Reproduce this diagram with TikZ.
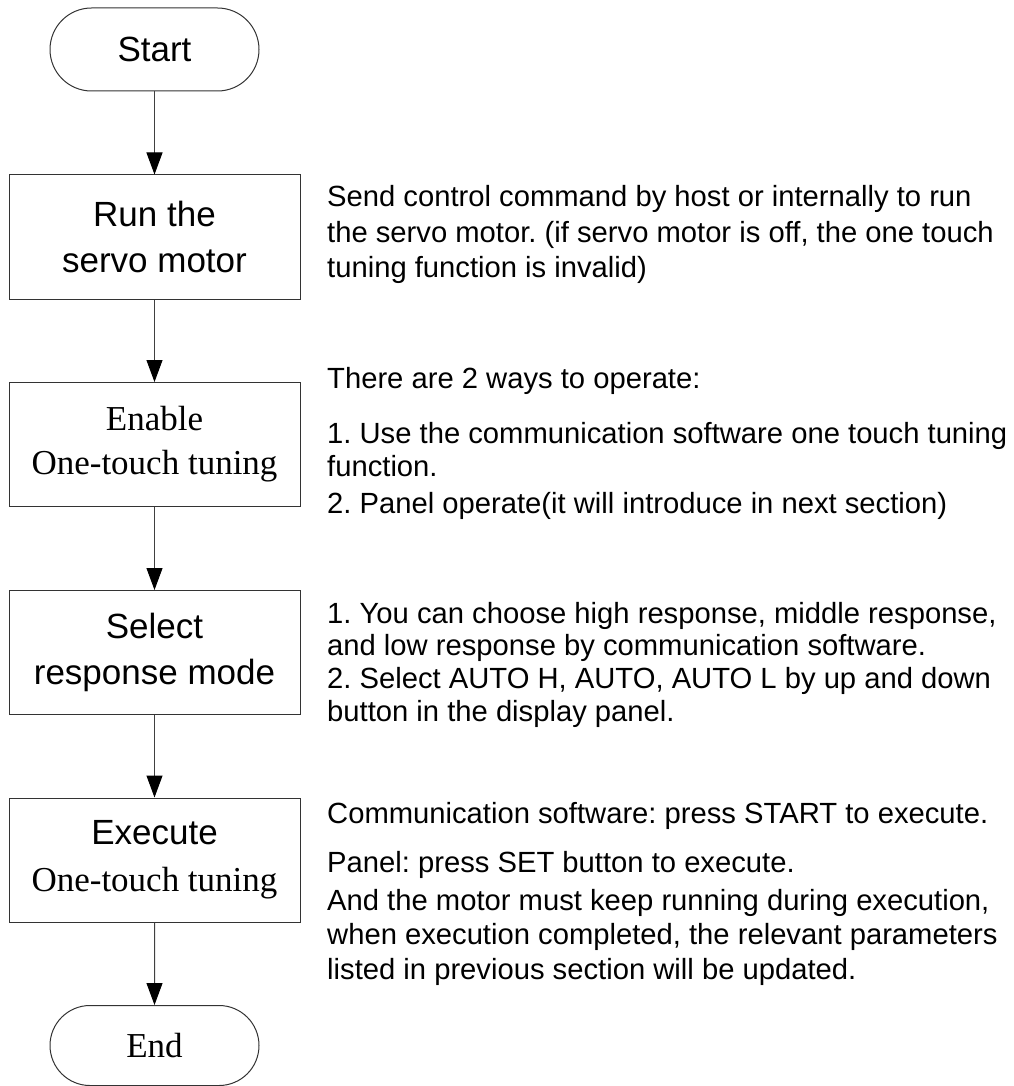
\documentclass[tikz,border=0pt]{standalone}
\usepackage{fontspec}
\setmainfont{Liberation Serif}
\setsansfont{Liberation Sans}
\usetikzlibrary{arrows.meta,shapes.misc}
\frenchspacing
\begin{document}
\begin{tikzpicture}[x=1pt,y=-1pt,
  box/.style={draw=black!80, line width=1pt, minimum width=291pt, minimum height=124pt, align=center, inner sep=0pt},
  term/.style={draw=black!80, line width=1pt, rounded rectangle, minimum width=209pt, minimum height=83pt, inner sep=0pt},
  flow/.style={draw=black!75, line width=1pt, -{Triangle[width=16pt,length=22pt,color=black,fill=black]}},
  desc/.style={anchor=base west, inner sep=0pt, font=\sffamily\fontsize{29.2}{34}\selectfont\frenchspacing},
  bigsans/.style={font=\sffamily\fontsize{35}{46}\selectfont},
  bigserif/.style={font=\rmfamily\fontsize{35}{44}\selectfont},
]
\useasboundingbox (0,0) rectangle (1013,1086);

\node[term, bigsans] (start) at (154.5,49.5) {Start};
\node[box, bigsans] (run) at (154.5,237) {Run the\\servo motor};
\node[box, bigserif] (enable) at (154.5,444.5) {Enable\\One-touch tuning};
\node[box, bigsans] (select) at (154.5,652.5) {Select\\response mode};
\node[box, font=\fontsize{35}{47}\selectfont] (exec) at (154.5,860) {\sffamily Execute\\\rmfamily One-touch tuning};
\node[term, minimum height=80pt, bigserif] (end) at (154.5,1045.5) {End};

\draw[flow] (start) -- (run);
\draw[flow] (run) -- (enable);
\draw[flow] (enable) -- (select);
\draw[flow] (select) -- (exec);
\draw[flow] (exec) -- (end);

\node[desc] (d1a) at (327,207) {Send control command by host or internally to run};
\node[desc] (d1b) at (327,242) {the servo motor. (if servo motor is off, the one touch};
\node[desc] (d1c) at (327,277) {tuning function is invalid)};

\node[desc] (d2a) at (327,388) {There are 2 ways to operate:};
\node[desc] (d2b) at (327,443) {1. Use the communication software one touch tuning};
\node[desc] (d2c) at (327,476) {function.};
\node[desc] (d2d) at (327,513) {2. Panel operate(it will introduce in next section)};

\node[desc] (d3a) at (327,623) {1. You can choose high response, middle response,};
\node[desc] (d3b) at (327,655) {and low response by communication software.};
\node[desc] (d3c) at (327,688) {2. Select AUTO H, AUTO, AUTO L by up and down};
\node[desc] (d3d) at (327,721) {button in the display panel.};

\node[desc] (d4a) at (327,823) {Communication software: press START to execute.};
\node[desc] (d4b) at (327,872) {Panel: press SET button to execute.};
\node[desc] (d4c) at (327,910) {And the motor must keep running during execution,};
\node[desc] (d4d) at (327,944) {when execution completed, the relevant parameters};
\node[desc] (d4e) at (327,979) {listed in previous section will be updated.};
\end{tikzpicture}
\end{document}
